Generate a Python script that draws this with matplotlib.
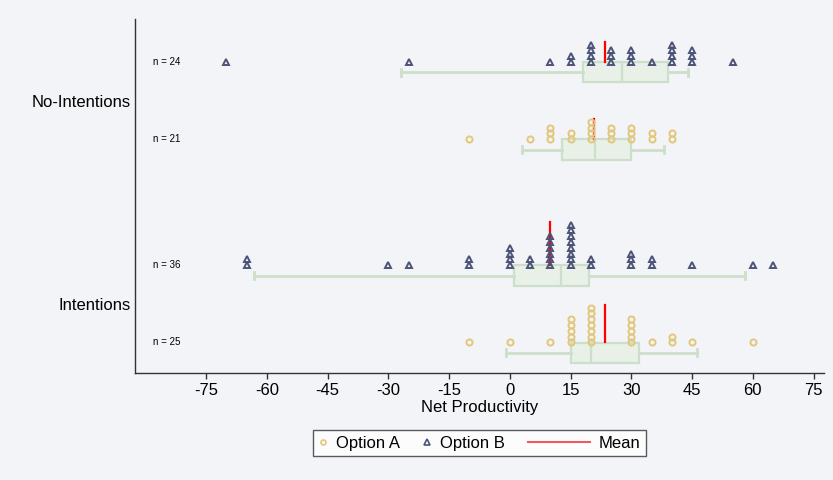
import numpy as np
import matplotlib.pyplot as plt
from matplotlib.legend_handler import HandlerLine2D
from matplotlib.lines import Line2D

plt.rcParams['font.family'] = ['Liberation Sans', 'DejaVu Sans']

# dot values (binned) and how many respondents sit on each bin
noint_b_vals = [-70, -25, 10, 15, 20, 25, 30, 35, 40, 45, 55]
noint_b_cnts = [1, 1, 1, 2, 4, 3, 3, 1, 4, 3, 1]
noint_a_vals = [-10, 5, 10, 15, 20, 25, 30, 35, 40]
noint_a_cnts = [1, 1, 3, 2, 4, 3, 3, 2, 2]
int_b_vals = [-65, -30, -25, -10, 0, 5, 10, 15, 20, 30, 35, 45, 60, 65]
int_b_cnts = [2, 1, 1, 2, 4, 2, 6, 8, 2, 3, 2, 1, 1, 1]
int_a_vals = [-10, 0, 10, 15, 20, 30, 35, 40, 45, 60]
int_a_cnts = [1, 1, 1, 5, 7, 5, 1, 2, 1, 1]

# box summaries: whisker low, q1, median, q3, whisker high
noint_b_box = [-27, 18.1, 27.6, 39.1, 44.1]
noint_a_box = [2.9, 13, 21, 30, 38.1]
int_b_box = [-63.1, 1.1, 12.7, 19.5, 58.1]
int_a_box = [-1, 15, 20, 32, 46.2]

means = [23.5, 20.9, 10.0, 23.5]

groups = ["Intentions", "No-Intentions"]
xticks = [-75, -60, -45, -30, -15, 0, 15, 30, 45, 60, 75]

col_a = '#e2c67a'
col_b = '#4b5478'
box_face = '#e8f0e7'
box_edge = '#cddfca'
bg = '#f3f4f7'

# layout
off = 0.19
step = 0.0285
box_drop = 0.051

rows = [
    (noint_b_vals, noint_b_cnts, noint_b_box, 1 + off, '^', col_b, means[0]),
    (noint_a_vals, noint_a_cnts, noint_a_box, 1 - off, 'o', col_a, means[1]),
    (int_b_vals, int_b_cnts, int_b_box, 0 + off, '^', col_b, means[2]),
    (int_a_vals, int_a_cnts, int_a_box, 0 - off, 'o', col_a, means[3]),
]

fig = plt.figure(figsize=(8.33, 4.8), dpi=100, facecolor=bg)
ax = fig.add_axes([0.162, 0.223, 0.827, 0.737], facecolor=bg)

stats = []
for vals, cnts, box, base, mk, col, mn in rows:
    stats.append(dict(whislo=box[0], q1=box[1], med=box[2], q3=box[3],
                      whishi=box[4], fliers=[]))
ax.bxp(stats, positions=[r[3] - box_drop for r in rows], vert=False,
       widths=0.1, capwidths=0.035, patch_artist=True, showfliers=False,
       boxprops=dict(facecolor=box_face, edgecolor=box_edge, linewidth=1.6),
       medianprops=dict(color=box_edge, linewidth=1.6),
       whiskerprops=dict(color=box_edge, linewidth=2),
       capprops=dict(color=box_edge, linewidth=2),
       manage_ticks=False, zorder=1)

for vals, cnts, box, base, mk, col, mn in rows:
    xs = np.repeat(vals, cnts)
    ys = np.concatenate([base + step * np.arange(c) for c in cnts])
    top = base + step * (max(cnts) - 0.5)
    ax.plot([mn, mn], [base, top], color='red', lw=1.6, zorder=2)
    ax.plot(xs, ys, ls='none', marker=mk, ms=4.8 if mk == '^' else 4.4,
            mfc='none', mec=col, mew=1.4, zorder=3)
    ax.text(0.026, base, f"n = {sum(cnts)}", transform=ax.get_yaxis_transform(),
            fontsize=7, va='center', ha='left')

ax.set_xlim(-92.6, 77.55)
ax.set_ylim(-0.34, 1.40)
ax.set_xticks(xticks)
ax.set_xticklabels([str(t) for t in xticks], fontsize=12)
ax.set_yticks([0, 1])
ax.set_yticklabels(groups, fontsize=12)
ax.tick_params(axis='y', length=0, pad=3)
ax.tick_params(axis='x', length=4, width=1, color='#333333', pad=3)
ax.set_xlabel("Net Productivity", fontsize=12, labelpad=2)
for s in ['top', 'right']:
    ax.spines[s].set_visible(False)
for s in ['left', 'bottom']:
    ax.spines[s].set_color('#333333')
    ax.spines[s].set_linewidth(1)


class WideLine(HandlerLine2D):
    def legend_artist(self, legend, orig_handle, fontsize, handlebox):
        handlebox.width = 3.75 * fontsize
        return super().legend_artist(legend, orig_handle, fontsize, handlebox)


h_a = Line2D([], [], ls='none', marker='o', ms=3.6, mfc='none', mec=col_a, mew=1.2)
h_b = Line2D([], [], ls='none', marker='^', ms=4, mfc='none', mec=col_b, mew=1.2)
h_m = Line2D([], [], color='#f05a5a', lw=1.5)
leg = fig.legend([h_a, h_b, h_m], ["Option A", "Option B", "Mean"], ncol=3,
                 loc='center', bbox_to_anchor=(0.576, 0.077), fontsize=12,
                 frameon=True, fancybox=False, edgecolor='#333333',
                 handlelength=0.5, handletextpad=0.5, columnspacing=1.4,
                 borderpad=0.35, handler_map={h_m: WideLine()})
leg.get_frame().set_linewidth(1)
leg.get_frame().set_facecolor('white')

fig.savefig('out.png', dpi=100, facecolor=bg)
